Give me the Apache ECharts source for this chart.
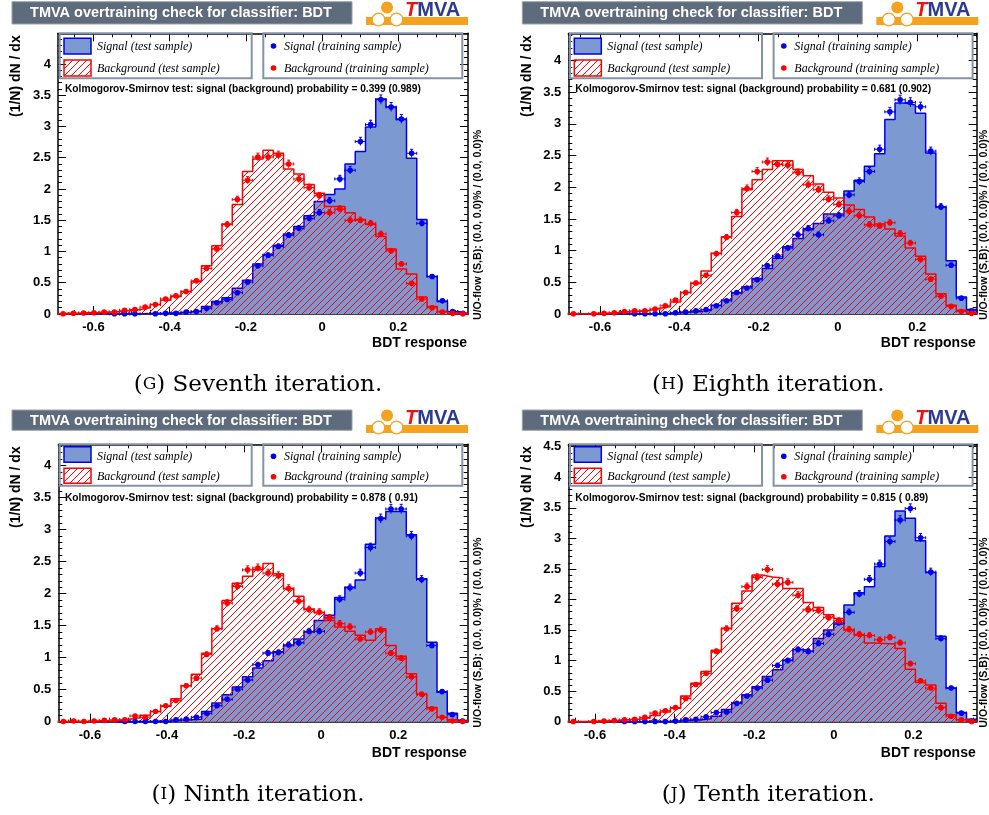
<!DOCTYPE html>
<html><head><meta charset="utf-8">
<script src="https://cdn.jsdelivr.net/npm/echarts@6/dist/echarts.min.js"></script>
<style>html,body{margin:0;padding:0;background:#fff}#c{width:989px;height:815px}</style>
</head><body><div id="c"></div>
<script>
// ---------------- DATA (40 bins per histogram) ----------------
const xRange_G = [-0.693, 0.383];
const xRange_H = [-0.680, 0.350];
const xRange_I = [-0.682, 0.380];
const xRange_J = [-0.667, 0.359];

const yMax_G = 4.49, yMax_H = 4.43, yMax_I = 4.33, yMax_J = 4.54;

const sigTest_G = [0,0,0,0,0,0.002,0.003,0.005,0.008,0.01,0.015,0.02,0.03,0.05,0.12,0.20,0.26,0.41,0.54,0.80,0.95,1.10,1.28,1.40,1.57,1.80,1.91,2.00,2.40,2.60,2.99,3.44,3.31,3.11,2.49,1.51,0.60,0.20,0.04,0.01];
const bkgTest_G = [0.01,0.01,0.02,0.02,0.03,0.04,0.05,0.07,0.10,0.15,0.22,0.28,0.36,0.52,0.77,1.09,1.44,1.75,2.28,2.48,2.62,2.57,2.32,2.24,2.07,1.93,1.72,1.72,1.62,1.51,1.43,1.24,1.04,0.72,0.64,0.27,0.12,0.04,0.01,0.005];
const sigTrain_G = [null,null,null,null,null,0.003,0.003,0.003,null,0.005,0.01,0.01,0.03,0.04,0.09,0.18,0.23,0.34,0.51,0.77,0.94,1.08,1.26,1.37,1.53,1.62,1.81,2.16,2.30,2.76,3.03,3.43,3.31,3.12,2.57,1.45,0.60,0.21,0.04,0.01];
const bkgTrain_G = [0.005,0.01,0.015,0.02,0.03,0.03,0.06,0.07,0.11,0.15,0.24,0.29,0.36,0.53,0.73,1.04,1.43,1.83,2.14,2.51,2.51,2.54,2.40,2.16,2.02,1.89,1.62,1.68,1.50,1.50,1.45,1.28,1.01,0.80,0.49,0.24,0.10,0.03,0.01,0.005];

const sigTest_H = [0,0,0,0,0,0,0.002,0.004,0.006,0.01,0.02,0.03,0.04,0.06,0.14,0.22,0.33,0.43,0.56,0.72,0.88,1.06,1.19,1.33,1.43,1.58,1.58,1.94,2.11,2.33,2.53,3.07,3.33,3.30,3.17,2.54,1.69,0.84,0.27,0.07];
const bkgTest_H = [0.003,0.005,0.01,0.01,0.02,0.03,0.04,0.06,0.09,0.12,0.19,0.34,0.48,0.68,0.96,1.22,1.54,1.96,2.12,2.28,2.42,2.42,2.28,2.18,2.05,1.92,1.83,1.72,1.65,1.53,1.42,1.34,1.23,1.04,0.91,0.63,0.32,0.14,0.06,0.02];
const sigTrain_H = [null,null,null,null,null,null,0.003,0.003,0.003,0.005,0.02,0.03,0.05,0.07,0.13,0.21,0.34,0.41,0.54,0.76,0.91,1.04,1.25,1.35,1.25,1.47,1.55,1.88,2.09,2.25,2.60,3.19,3.38,3.34,3.27,2.57,1.69,0.77,0.25,0.05];
const bkgTrain_H = [0.003,null,0.003,0.01,0.02,0.04,0.05,0.05,0.08,0.13,0.22,0.34,0.49,0.61,0.95,1.21,1.60,1.98,2.25,2.40,2.36,2.35,2.23,2.04,1.96,1.81,1.73,1.62,1.55,1.41,1.39,1.44,1.27,1.12,0.86,0.55,0.28,0.12,0.04,0.01];

const sigTest_I = [0,0,0,0,0,0,0,0.002,0.004,0.01,0.01,0.02,0.03,0.04,0.16,0.29,0.42,0.54,0.70,0.84,0.95,1.09,1.19,1.29,1.40,1.58,1.66,1.94,2.10,2.21,2.77,3.18,3.28,3.28,2.92,2.23,1.24,0.46,0.13,0.02];
const bkgTest_I = [0.003,0.005,0.005,0.01,0.01,0.02,0.04,0.06,0.10,0.16,0.24,0.36,0.56,0.74,1.07,1.45,1.89,2.16,2.27,2.37,2.47,2.31,2.08,1.96,1.76,1.70,1.58,1.48,1.41,1.35,1.27,1.45,1.19,1.02,0.75,0.43,0.22,0.07,0.03,0.01];
const sigTrain_I = [null,null,null,null,null,null,0.003,0.003,0.003,0.003,0.003,0.03,0.04,0.07,0.13,0.25,0.35,0.51,0.65,0.89,1.07,1.08,1.20,1.23,1.41,1.41,1.62,1.91,2.09,2.32,2.72,3.17,3.32,3.32,2.90,2.22,1.19,0.47,0.11,0.01];
const bkgTrain_I = [0.003,0.01,0.003,0.01,0.02,0.03,0.03,0.09,0.07,0.16,0.25,0.33,0.56,0.68,1.05,1.45,1.85,2.11,2.37,2.40,2.32,2.28,2.08,1.88,1.75,1.71,1.62,1.53,1.48,1.29,1.40,1.43,1.07,0.99,0.70,0.43,0.20,0.07,0.01,0.003];

const sigTest_J = [0,0,0,0,0,0,0,0.002,0.004,0.005,0.01,0.02,0.03,0.05,0.09,0.20,0.31,0.44,0.57,0.74,0.85,1.01,1.18,1.15,1.36,1.50,1.60,1.91,2.11,2.21,2.54,3.04,3.45,3.33,2.96,2.44,1.40,0.55,0.15,0.04];
const bkgTest_J = [0.003,0.005,0.01,0.01,0.02,0.03,0.04,0.06,0.10,0.16,0.22,0.42,0.63,0.82,1.17,1.53,1.94,2.14,2.40,2.37,2.35,2.18,2.18,1.95,1.87,1.75,1.69,1.50,1.42,1.29,1.28,1.27,1.20,0.86,0.64,0.60,0.30,0.11,0.03,0.01];
const sigTrain_J = [null,null,null,null,null,0.003,0.003,0.003,0.003,0.003,0.01,0.03,0.04,0.08,0.15,0.16,0.30,0.42,0.55,0.68,0.92,1.00,1.18,1.15,1.28,1.43,1.62,1.79,2.09,2.33,2.58,2.95,3.30,3.49,3.01,2.45,1.36,0.55,0.14,0.01];
const bkgTrain_J = [0.003,null,0.003,0.01,0.02,0.03,0.04,0.07,0.14,0.18,0.23,0.38,0.61,0.79,1.15,1.52,1.85,2.21,2.36,2.49,2.25,2.28,2.07,1.83,1.82,1.70,1.65,1.51,1.43,1.41,1.34,1.38,1.29,0.95,0.67,0.55,0.23,0.09,0.03,0.003];

const xTickLabels = [-0.6, -0.4, -0.2, 0, 0.2];
const yTickLabels = [0, 0.5, 1, 1.5, 2, 2.5, 3, 3.5, 4, 4.5];

const ksTexts = ['0.399 (0.989)', '0.681 (0.902)', '0.878 ( 0.91)', '0.815 ( 0.89)'];
const captionLetters = ['G', 'H', 'I', 'J'];
const captionTexts = ['Seventh iteration.', 'Eighth iteration.', 'Ninth iteration.', 'Tenth iteration.'];
const titleText = 'TMVA overtraining check for classifier: BDT';
const legendTexts = ['Signal (test sample)', 'Background (test sample)', 'Signal (training sample)', 'Background (training sample)'];
const xAxisName = 'BDT response';
const yAxisName = '(1/N) dN / dx';
const uoText = 'U/O-flow (S,B): (0.0, 0.0)% / (0.0, 0.0)%';

// ---------------- STYLE / LAYOUT ----------------
const SIG_FILL = '#7d99d1', SIG_LINE = '#0000ee', BKG = '#ff0000', PT_BLUE = '#0000ee';
const SANS = '"Liberation Sans", Arial, Helvetica, sans-serif';
const SERIF = '"Liberation Serif", "Times New Roman", serif';
const CAPSERIF = '"DejaVu Serif", serif';

function makeHatch() {
  const s = 7;
  const c = document.createElement('canvas'); c.width = s; c.height = s;
  const g = c.getContext('2d');
  g.strokeStyle = BKG; g.lineWidth = 1;
  g.beginPath();
  g.moveTo(-1, s + 1); g.lineTo(s + 1, -1);
  g.moveTo(-1, 1); g.lineTo(1, -1);
  g.moveTo(s - 1, s + 1); g.lineTo(s + 1, s - 1);
  g.stroke();
  return c;
}
const hatch = makeHatch();
const hatchFill = { image: hatch, repeat: 'repeat' };

const panels = [
  { sig: sigTest_G, bkg: bkgTest_G, sTr: sigTrain_G, bTr: bkgTrain_G, range: xRange_G, ymax: yMax_G, cx: 0,     row: 0, uo: 10,  grid: { left: 58,    top: 33.3,  width: 410,   height: 280.7 } },
  { sig: sigTest_H, bkg: bkgTest_H, sTr: sigTrain_H, bTr: bkgTrain_H, range: xRange_H, ymax: yMax_H, cx: 510.3, row: 0, uo: 7.3, grid: { left: 568.3, top: 33.3,  width: 408.4, height: 280.7 } },
  { sig: sigTest_I, bkg: bkgTest_I, sTr: sigTrain_I, bTr: bkgTrain_I, range: xRange_I, ymax: yMax_I, cx: 0,     row: 1, uo: 10,  grid: { left: 58.3,  top: 444.3, width: 409.4, height: 277.4 } },
  { sig: sigTest_J, bkg: bkgTest_J, sTr: sigTrain_J, bTr: bkgTrain_J, range: xRange_J, ymax: yMax_J, cx: 510.3, row: 1, uo: 7.3, grid: { left: 568.3, top: 444.3, width: 408.4, height: 277.4 } }
];
const rows = [
  { tTop: 1.7, tBot: 24, logoTop: 0, legTop: 33.3, legBot: 78.3, sw1: [38.3, 54], sw2: [60, 76], e1: 46.5, e2: 68.5, ks: 89, xl: 343, cap: 385 },
  { tTop: 410, tBot: 430.3, logoTop: 408, legTop: 444.3, legBot: 485.7, sw1: [446.7, 462.3], sw2: [468.3, 483.3], e1: 456.7, e2: 477.3, ks: 498.3, xl: 753, cap: 795 }
];

function histData(vals, range) {
  const n = vals.length, w = (range[1] - range[0]) / n;
  const d = [[range[0], 0]];
  vals.forEach((v, i) => d.push([range[0] + w * i, v]));
  d.push([range[1], vals[n - 1]]);
  d.push([range[1], 0]);
  return d;
}
function pointData(vals, range) {
  const n = vals.length, w = (range[1] - range[0]) / n;
  const d = [];
  vals.forEach((v, i) => { if (v !== null) d.push([range[0] + w * (i + 0.5), v]); });
  return d;
}
function minorTicks(range) {
  const out = [];
  for (let k = Math.ceil(range[0] / 0.05); k * 0.05 <= range[1] + 1e-9; k++) out.push(+(k * 0.05).toFixed(2));
  return out;
}
function fmtX(v) { const r = Math.round(v * 10) / 10; return r === 0 ? '0' : String(r); }
function fmtY(v) { return Math.abs(v * 2 - Math.round(v * 2)) < 1e-6 ? String(Math.round(v * 10) / 10) : ''; }

const grids = [], xAxes = [], yAxes = [], series = [], graphics = [];

panels.forEach((p, gi) => {
  grids.push(Object.assign({ containLabel: false }, p.grid));
  const majors = xTickLabels.filter(v => v >= p.range[0] && v <= p.range[1]);
  const minors = minorTicks(p.range);
  const base = { gridIndex: gi, type: 'value', min: p.range[0], max: p.range[1], splitLine: { show: false }, silent: true };
  const line = { show: true, onZero: false, lineStyle: { color: '#000', width: 1.5 } };
  const noLine = { show: false, onZero: false };
  xAxes.push(Object.assign({}, base, { position: 'bottom', axisLine: line,
    axisTick: { show: true, inside: true, length: 8, customValues: majors, lineStyle: { color: '#000', width: 1 } },
    axisLabel: { show: true, customValues: majors, formatter: fmtX, color: '#000', fontFamily: SANS, fontWeight: 'bold', fontSize: 13, margin: 7 } }));
  xAxes.push(Object.assign({}, base, { position: 'bottom', axisLine: noLine, axisLabel: { show: false },
    axisTick: { show: true, inside: true, length: 4, customValues: minors, lineStyle: { color: '#000', width: 1 } } }));
  xAxes.push(Object.assign({}, base, { position: 'top', axisLine: line, axisLabel: { show: false },
    axisTick: { show: true, inside: true, length: 8, customValues: majors, lineStyle: { color: '#000', width: 1 } } }));
  xAxes.push(Object.assign({}, base, { position: 'top', axisLine: noLine, axisLabel: { show: false },
    axisTick: { show: true, inside: true, length: 4, customValues: minors, lineStyle: { color: '#000', width: 1 } } }));

  const ybase = { gridIndex: gi, type: 'value', min: 0, max: p.ymax, interval: 0.5, splitLine: { show: false }, silent: true,
    minorTick: { show: true, splitNumber: 5, length: 4, lineStyle: { color: '#000', width: 1 } } };
  yAxes.push(Object.assign({}, ybase, { position: 'left', axisLine: line,
    axisTick: { show: true, inside: true, length: 8, lineStyle: { color: '#000', width: 1 } },
    axisLabel: { show: true, formatter: fmtY, color: '#000', fontFamily: SANS, fontWeight: 'bold', fontSize: 13, margin: 7 } }));
  yAxes.push(Object.assign({}, ybase, { position: 'right', axisLine: line,
    axisTick: { show: true, inside: true, length: 8, lineStyle: { color: '#000', width: 1 } },
    axisLabel: { show: false } }));

  const xi = gi * 4, yi = gi * 2;
  series.push({ type: 'line', xAxisIndex: xi, yAxisIndex: yi, step: 'end', data: histData(p.sig, p.range),
    showSymbol: false, symbol: 'none', lineStyle: { color: SIG_LINE, width: 1.5 }, areaStyle: { color: SIG_FILL, opacity: 1 }, z: 2, animation: false, silent: true });
  series.push({ type: 'line', xAxisIndex: xi, yAxisIndex: yi, step: 'end', data: histData(p.bkg, p.range),
    showSymbol: false, symbol: 'none', lineStyle: { color: BKG, width: 1.5 }, areaStyle: { color: hatchFill, opacity: 1 }, z: 3, animation: false, silent: true });
  const binW = (p.range[1] - p.range[0]) / 40;
  const mkPts = (vals, color, z) => ({
    type: 'custom', xAxisIndex: xi, yAxisIndex: yi, data: pointData(vals, p.range), z: z, animation: false, silent: true, clip: false,
    renderItem: (params, api) => {
      const x = api.value(0), y = api.value(1);
      const c = api.coord([x, y]);
      const l = api.coord([x - binW / 2, y]), r = api.coord([x + binW / 2, y]);
      const e = 0.04 * Math.sqrt(y);
      const t = api.coord([x, y + e]), b = api.coord([x, Math.max(0, y - e)]);
      const st = { stroke: color, lineWidth: 1 };
      return { type: 'group', children: [
        { type: 'line', shape: { x1: l[0], y1: c[1], x2: r[0], y2: c[1] }, style: st },
        { type: 'line', shape: { x1: l[0], y1: c[1] - 1.5, x2: l[0], y2: c[1] + 1.5 }, style: st },
        { type: 'line', shape: { x1: r[0], y1: c[1] - 1.5, x2: r[0], y2: c[1] + 1.5 }, style: st },
        { type: 'line', shape: { x1: c[0], y1: t[1], x2: c[0], y2: b[1] }, style: st },
        { type: 'line', shape: { x1: c[0] - 1.5, y1: t[1], x2: c[0] + 1.5, y2: t[1] }, style: st },
        { type: 'circle', shape: { cx: c[0], cy: c[1], r: 2.8 }, style: { fill: color } }
      ] };
    }
  });
  series.push(mkPts(p.sTr, PT_BLUE, 4));
  series.push(mkPts(p.bTr, BKG, 5));

  // ---------- decorations ----------
  const R = rows[p.row], X = p.cx;
  const right = p.grid.left + p.grid.width, bottom = p.grid.top + p.grid.height;
  graphics.push({ type: 'rect', shape: { x: X + 12, y: R.tTop, width: 340, height: R.tBot - R.tTop }, style: { fill: '#5d6b7d', stroke: '#9aa3ae', lineWidth: 1 }, z: 100 });
  graphics.push({ type: 'text', x: X + 181, y: (R.tTop + R.tBot) / 2 + 0.5, style: { text: titleText, fill: '#fff', font: 'bold 14.5px ' + SANS, align: 'center', verticalAlign: 'middle' }, z: 101 });
  const L = R.logoTop;
  graphics.push({ type: 'rect', shape: { x: X + 366, y: L + 17, width: 102, height: 8 }, style: { fill: '#f5a21f' }, z: 100 });
  graphics.push({ type: 'circle', shape: { cx: X + 387, cy: L + 7.5, r: 6 }, style: { fill: '#f5a21f' }, z: 101 });
  graphics.push({ type: 'circle', shape: { cx: X + 378.5, cy: L + 19.5, r: 6.3 }, style: { fill: '#fff', stroke: '#f5a21f', lineWidth: 1.2 }, z: 102 });
  graphics.push({ type: 'circle', shape: { cx: X + 396.5, cy: L + 19.5, r: 6.3 }, style: { fill: '#fff', stroke: '#f5a21f', lineWidth: 1.2 }, z: 102 });
  graphics.push({ type: 'text', x: X + 405, y: L + 20.5, style: { text: '{t|T}{m|MVA}', verticalAlign: 'bottom', align: 'left',
    rich: { t: { fill: '#ee1111', font: 'italic bold 20px ' + SANS }, m: { fill: '#2d3a92', font: 'bold 20px ' + SANS } } }, z: 103 });
  graphics.push({ type: 'rect', shape: { x: X + 59.7, y: R.legTop, width: 192, height: R.legBot - R.legTop }, style: { fill: null, stroke: '#8593a8', lineWidth: 2 }, z: 100 });
  graphics.push({ type: 'rect', shape: { x: X + 263.3, y: R.legTop, width: 199, height: R.legBot - R.legTop }, style: { fill: null, stroke: '#8593a8', lineWidth: 2 }, z: 100 });
  graphics.push({ type: 'rect', shape: { x: X + 64, y: R.sw1[0], width: 27, height: R.sw1[1] - R.sw1[0] }, style: { fill: SIG_FILL, stroke: SIG_LINE, lineWidth: 1.5 }, z: 101 });
  graphics.push({ type: 'rect', shape: { x: X + 64, y: R.sw2[0], width: 27, height: R.sw2[1] - R.sw2[0] }, style: { fill: hatchFill, stroke: BKG, lineWidth: 1.5 }, z: 101 });
  graphics.push({ type: 'text', x: X + 97, y: R.e1, style: { text: legendTexts[0], fill: '#000', font: 'italic 12px ' + SERIF, verticalAlign: 'middle' }, z: 101 });
  graphics.push({ type: 'text', x: X + 97, y: R.e2, style: { text: legendTexts[1], fill: '#000', font: 'italic 12px ' + SERIF, verticalAlign: 'middle' }, z: 101 });
  graphics.push({ type: 'circle', shape: { cx: X + 273.5, cy: R.e1 - 0.5, r: 2.8 }, style: { fill: PT_BLUE }, z: 101 });
  graphics.push({ type: 'circle', shape: { cx: X + 273.5, cy: R.e2 - 0.5, r: 2.8 }, style: { fill: BKG }, z: 101 });
  graphics.push({ type: 'text', x: X + 284, y: R.e1, style: { text: legendTexts[2], fill: '#000', font: 'italic 12px ' + SERIF, verticalAlign: 'middle' }, z: 101 });
  graphics.push({ type: 'text', x: X + 284, y: R.e2, style: { text: legendTexts[3], fill: '#000', font: 'italic 12px ' + SERIF, verticalAlign: 'middle' }, z: 101 });
  graphics.push({ type: 'text', x: X + 65, y: R.ks, style: { text: 'Kolmogorov-Smirnov test: signal (background) probability = ' + ksTexts[gi], fill: '#000', font: 'bold 10.2px ' + SANS, verticalAlign: 'middle' }, z: 101 });
  graphics.push({ type: 'text', x: X + 16.5, y: p.grid.top + 2, rotation: Math.PI / 2, style: { text: yAxisName, fill: '#000', font: 'bold 14px ' + SANS, align: 'right', verticalAlign: 'middle' }, z: 101 });
  graphics.push({ type: 'text', x: right - 1, y: R.xl, style: { text: xAxisName, fill: '#000', font: 'bold 14px ' + SANS, align: 'right', verticalAlign: 'middle' }, z: 101 });
  graphics.push({ type: 'text', x: right + p.uo, y: bottom + 6, rotation: Math.PI / 2, style: { text: uoText, fill: '#000', font: 'bold 10.6px ' + SANS, align: 'left', verticalAlign: 'middle' }, z: 101 });
  graphics.push({ type: 'text', x: X + 258, y: R.cap, style: { text: '{a|(}{b|' + captionLetters[gi] + '}{a|) ' + captionTexts[gi] + '}', align: 'center', verticalAlign: 'middle',
    rich: { a: { fill: '#000', font: '23px ' + CAPSERIF }, b: { fill: '#000', font: '17px ' + CAPSERIF } } }, z: 101 });
});

const chart = echarts.init(document.getElementById('c'), null, { renderer: 'canvas', width: 989, height: 815 });
chart.setOption({
  backgroundColor: '#fff',
  animation: false,
  grid: grids,
  xAxis: xAxes,
  yAxis: yAxes,
  series: series,
  graphic: { elements: graphics }
});
</script>
</body></html>
